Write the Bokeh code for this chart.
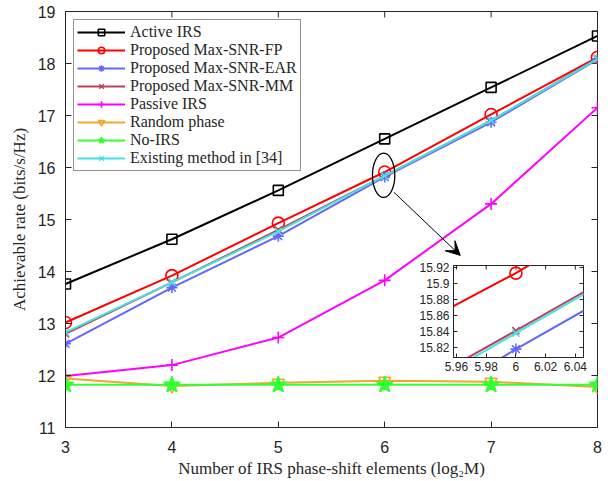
import math
from bokeh.plotting import figure
from bokeh.models import (Range1d, FixedTicker, Legend, LegendItem,
                          Arrow, VeeHead, NumeralTickFormatter)
from bokeh.layouts import column
from bokeh.embed import file_html
from bokeh.resources import INLINE

# ---------------- data ----------------
x_vals = [3, 4, 5, 6, 7, 8]
active_irs = [13.76, 14.62, 15.56, 16.55, 17.54, 18.53]
max_snr_fp = [13.02, 13.92, 14.93, 15.913, 17.02, 18.12]
max_snr_ear = [12.61, 13.69, 14.68, 15.818, 16.87, 18.08]
max_snr_mm = [12.80, 13.79, 14.80, 15.841, 16.90, 18.10]
passive_irs = [11.99, 12.20, 12.73, 13.83, 15.30, 17.15]
random_phase = [11.94, 11.80, 11.86, 11.90, 11.88, 11.78]
no_irs = [11.82, 11.82, 11.82, 11.82, 11.82, 11.82]
existing_34 = [12.83, 13.79, 14.77, 15.838, 16.90, 18.09]

x_ticks = [3, 4, 5, 6, 7, 8]
y_ticks = [11, 12, 13, 14, 15, 16, 17, 18, 19]
x_lim = [3, 8]
y_lim = [11, 19]
inset_x_ticks = [5.96, 5.98, 6.0, 6.02, 6.04]
inset_y_ticks = [15.82, 15.84, 15.86, 15.88, 15.90, 15.92]
inset_x_lim = [5.958, 6.0455]
inset_y_lim = [15.8075, 15.9225]

series = [
    ("Active IRS", active_irs, "#000000", "square", 10),
    ("Proposed Max-SNR-FP", max_snr_fp, "#FF0000", "circle", 12),
    ("Proposed Max-SNR-EAR", max_snr_ear, "#6666FF", "asterisk", 11),
    ("Proposed Max-SNR-MM", max_snr_mm, "#C0405C", "x", 10),
    ("Passive IRS", passive_irs, "#FF00FF", "cross", 12),
    ("Random phase", random_phase, "#EDA830", "inverted_triangle", 12),
    ("No-IRS", no_irs, "#33FF33", "star", 17),
    ("Existing method in [34]", existing_34, "#44E3E3", "x", 10),
]

AX = "#262626"
SERIF = "Liberation Serif"
SANS = "Liberation Sans"


def style_axis(ax, tick_len, font_size, standoff):
    ax.major_tick_in = tick_len
    ax.major_tick_out = 0
    ax.minor_tick_line_color = None
    ax.axis_line_color = AX
    ax.major_tick_line_color = AX
    ax.major_label_text_font = SANS
    ax.major_label_text_font_size = font_size
    ax.major_label_text_color = AX
    ax.major_label_standoff = standoff


def box_ticks(fig, xt, yt, xl, yl, tick_len):
    # mirrored inward ticks on the top and right edges (half clipped by frame)
    fig.scatter([xl[1]] * len(yt), yt, marker="dash", size=2 * tick_len,
                line_color=AX, line_width=1)
    fig.scatter(xt, [yl[1]] * len(xt), marker="dash", size=2 * tick_len,
                angle=math.pi / 2, line_color=AX, line_width=1)


# ---------------- main figure ----------------
p = figure(width=616, height=481, output_backend="svg", toolbar_location=None,
           x_range=Range1d(*x_lim), y_range=Range1d(*y_lim),
           min_border_left=65, min_border_right=19, min_border_top=11,
           min_border_bottom=54)
p.grid.visible = False
p.outline_line_color = AX
p.outline_line_width = 1
p.background_fill_color = "white"

style_axis(p.xaxis[0], 6, "16px", 13)
style_axis(p.yaxis[0], 6, "16px", 10)
for ax in (p.xaxis[0], p.yaxis[0]):
    ax.axis_label_text_font = SERIF
    ax.axis_label_text_font_size = "17px"
    ax.axis_label_text_font_style = "normal"
    ax.axis_label_text_color = AX
p.xaxis[0].ticker = FixedTicker(ticks=x_ticks)
p.yaxis[0].ticker = FixedTicker(ticks=y_ticks)
p.xaxis[0].axis_label = "Number of IRS phase-shift elements (log\u2082M)"
p.yaxis[0].axis_label = "Achievable rate (bits/s/Hz)"
p.xaxis[0].axis_label_standoff = 3
p.yaxis[0].axis_label_standoff = 6
box_ticks(p, x_ticks, y_ticks, x_lim, y_lim, 6)

items = []
for name, vals, color, marker, size in series:
    r1 = p.line(x_vals, vals, line_color=color, line_width=2)
    fill = color if marker == "star" else None
    r2 = p.scatter(x_vals, vals, marker=marker, size=size, line_color=color,
                   fill_color=fill, line_width=1.6)
    items.append(LegendItem(label=name, renderers=[r1, r2]))

legend = Legend(items=items, location="top_left")
legend.margin = 8
legend.padding = 3
legend.spacing = 0
legend.label_height = 16
legend.glyph_height = 16
legend.glyph_width = 48
legend.label_standoff = 5
legend.label_text_font = SERIF
legend.label_text_font_size = "16px"
legend.label_text_color = AX
legend.border_line_color = AX
legend.border_line_width = 1
legend.background_fill_alpha = 1
p.add_layout(legend)

# zoom marker: ellipse + arrow
p.ellipse(x=[5.99], y=[15.85], width=0.21, height=0.85, fill_color=None,
          line_color="black", line_width=1.3)
p.add_layout(Arrow(end=VeeHead(size=14, fill_color="black", line_color="black"),
                   x_start=6.086, y_start=15.525, x_end=6.71, y_end=14.31,
                   line_color="black", line_width=1))

# ---------------- inset figure ----------------
# (left/right borders equal the main plot's: the column aligns them)
ins = figure(frame_width=130, frame_height=92, output_backend="svg",
             toolbar_location=None,
             x_range=Range1d(*inset_x_lim), y_range=Range1d(*inset_y_lim),
             min_border_left=65, min_border_right=19, min_border_top=5,
             min_border_bottom=22)
ins.grid.visible = False
ins.outline_line_color = AX
ins.border_fill_alpha = 0
ins.background_fill_color = "white"
style_axis(ins.xaxis[0], 4, "12px", 4)
style_axis(ins.yaxis[0], 4, "12px", 4)
ins.xaxis[0].ticker = FixedTicker(ticks=inset_x_ticks)
ins.yaxis[0].ticker = FixedTicker(ticks=inset_y_ticks)
ins.xaxis[0].formatter = NumeralTickFormatter(format="0.[00]")
ins.yaxis[0].formatter = NumeralTickFormatter(format="0.[00]")
box_ticks(ins, inset_x_ticks, inset_y_ticks, inset_x_lim, inset_y_lim, 4)

for name, vals, color, marker, size in series[:4] + series[7:]:
    ins.line(x_vals, vals, line_color=color, line_width=2)
    ins.scatter(x_vals, vals, marker=marker, size=size, line_color=color,
                fill_color=None, line_width=1.6)

ins.styles = {"position": "absolute", "left": "388px", "top": "260px"}

layout = column(p, ins)
layout.styles = {"position": "relative"}

open("out.html", "w").write(file_html(layout, INLINE))
